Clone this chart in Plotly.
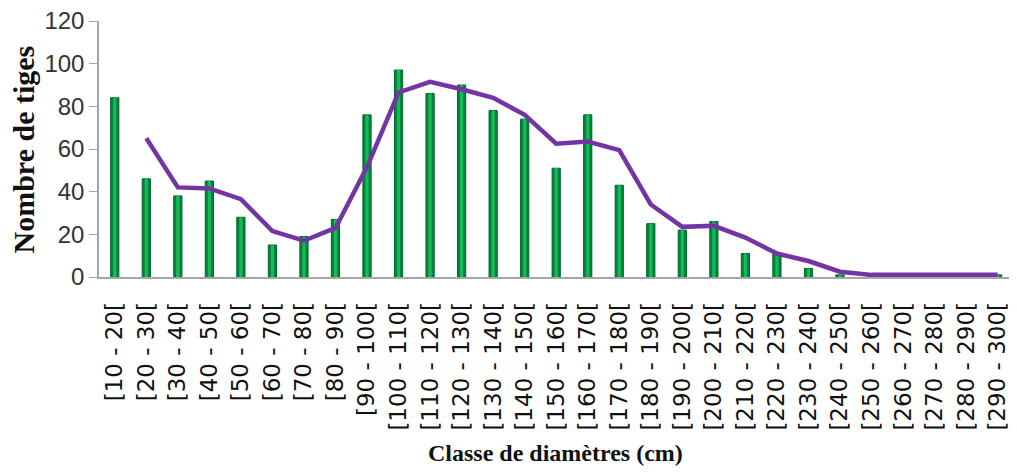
import plotly.graph_objects as go

# Classes de diamètres
classes = [
    "[10 - 20[", "[20 - 30[", "[30 - 40[", "[40 - 50[", "[50 - 60[", "[60 - 70[",
    "[70 - 80[", "[80 - 90[", "[90 - 100[", "[100 - 110[", "[110 - 120[",
    "[120 - 130[", "[130 - 140[", "[140 - 150[", "[150 - 160[", "[160 - 170[",
    "[170 - 180[", "[180 - 190[", "[190 - 200[", "[200 - 210[", "[210 - 220[",
    "[220 - 230[", "[230 - 240[", "[240 - 250[", "[250 - 260[", "[260 - 270[",
    "[270 - 280[", "[280 - 290[", "[290 - 300[",
]
# Nombre de tiges par classe (barres)
tiges = [84, 46, 38, 45, 28, 15, 19, 27, 76, 97, 86, 90, 78, 74, 51, 76, 43,
         25, 22, 26, 11, 11, 4, 1, 1, 1, 1, 1, 1]
# Courbe de tendance (moyenne mobile)
tendance = [None, 65, 42, 41.5, 36.5, 21.5, 17, 23, 51.5, 86.5, 91.5, 88, 84,
            76, 62.5, 63.5, 59.5, 34, 23.5, 24, 18.5, 11, 7.5, 2.5, 1, 1, 1, 1, 1]
y_ticks = [0, 20, 40, 60, 80, 100, 120]

fig = go.Figure()
# barres "cylindriques" : fond vert foncé + reflet clair au centre
fig.add_trace(go.Bar(
    x=classes, y=tiges, width=0.26,
    marker=dict(color="#00873a", line=dict(color="#006428", width=1)),
))
fig.add_trace(go.Bar(
    x=classes, y=tiges, width=0.1,
    marker=dict(color="#19b85a", line=dict(width=0)),
))
fig.add_trace(go.Scatter(
    x=classes, y=tendance, mode="lines",
    line=dict(color="#7434a4", width=4.5),
))

# la page html ajoute une marge de 8 px autour de la figure
fig.update_layout(
    width=1001, height=459,
    margin=dict(l=91, r=0, t=13, b=190),
    plot_bgcolor="white", paper_bgcolor="white",
    showlegend=False, barmode="overlay",
    xaxis=dict(
        range=[-0.5, 28.36], tickangle=-90, showline=True, linecolor="#a6a6a6",
        linewidth=1.5, ticks="", ticklabelstandoff=14, showgrid=False, automargin=False,
        ticklabeloverflow="allow",
        tickfont=dict(family="DejaVu Sans", size=23, color="#111"),
    ),
    yaxis=dict(
        range=[0, 120], tickvals=y_ticks, showline=True, linecolor="#a6a6a6",
        linewidth=1.5, ticks="outside", ticklen=8, tickcolor="#a6a6a6",
        showgrid=False, zeroline=False, automargin=False, ticklabeloverflow="allow",
        tickfont=dict(family="Liberation Sans, Arial, sans-serif", size=24, color="#333"),
    ),
    annotations=[
        dict(text="<b>Nombre de tiges</b>", textangle=-90, xref="paper", yref="paper",
             x=-0.083, y=0.5, xanchor="center", yanchor="middle", showarrow=False,
             font=dict(family="Liberation Serif, Times New Roman, serif", size=30, color="#111")),
        dict(text="<b>Classe de diamètres (cm)</b>", xref="paper", yref="paper",
             x=0.502, y=-0.686, xanchor="center", yanchor="middle", showarrow=False,
             font=dict(family="Liberation Serif, Times New Roman, serif", size=24, color="#111")),
    ],
)

fig.write_html("out.html")
